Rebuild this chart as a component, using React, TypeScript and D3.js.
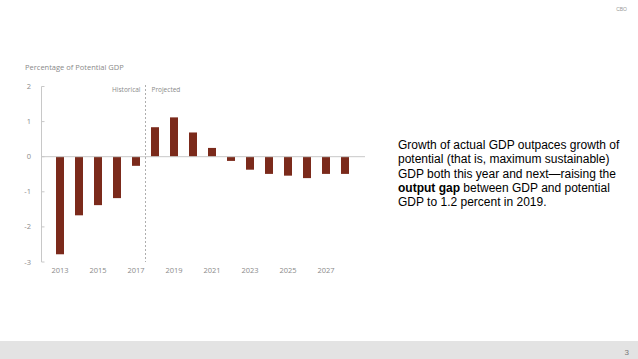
import React, { useEffect, useRef } from "react";
import * as d3 from "d3";

// output gap, percentage of potential GDP
const years = [2013, 2014, 2015, 2016, 2017, 2018, 2019, 2020, 2021, 2022, 2023, 2024, 2025, 2026, 2027, 2028];
const gapValues = [-2.78, -1.67, -1.38, -1.18, -0.26, 0.84, 1.12, 0.69, 0.25, -0.12, -0.37, -0.49, -0.54, -0.61, -0.49, -0.49];
const yTicks = [2, 1, 0, -1, -2, -3];
const xTickYears = [2013, 2015, 2017, 2019, 2021, 2023, 2025, 2027];
const noteLines = [
  [{ t: "Growth of actual GDP outpaces growth of", b: false }],
  [{ t: "potential (that is, maximum sustainable)", b: false }],
  [{ t: "GDP both this year and next\u2014raising the", b: false }],
  [{ t: "output gap", b: true }, { t: " between GDP and potential", b: false }],
  [{ t: "GDP to 1.2 percent in 2019.", b: false }],
];

const W = 638;
const H = 359;

export default function App() {
  const ref = useRef<SVGSVGElement>(null);

  useEffect(() => {
    const svg = d3.select(ref.current);
    svg.selectAll("*").remove();

    const font = "'Open Sans', sans-serif";
    const grey = "#8a8a8a";

    // slide background + footer band
    svg.append("rect").attr("width", W).attr("height", H).attr("fill", "#fff");
    svg.append("rect").attr("x", 0).attr("y", 341).attr("width", W).attr("height", H - 341).attr("fill", "#e3e3e3");
    svg.append("text").attr("x", 629).attr("y", 355).attr("text-anchor", "end")
      .attr("font-family", "Liberation Sans, Arial, sans-serif").attr("font-size", 8).attr("fill", "#777").text("3");
    svg.append("text").attr("x", 627).attr("y", 11).attr("text-anchor", "end")
      .attr("font-family", "Liberation Sans, Arial, sans-serif").attr("font-size", 5).attr("fill", "#999").text("CBO");

    const x = d3.scaleLinear().domain([2013, 2028]).range([60, 345]);
    const y = d3.scaleLinear().domain([-3, 2]).range([262, 86.5]);
    const barW = 8;

    svg.append("text").attr("x", 25).attr("y", 70)
      .attr("font-family", font).attr("font-size", 7.5).attr("fill", grey)
      .text("Percentage of Potential GDP");

    // y axis
    const axisX = 41.5;
    svg.append("line").attr("x1", axisX).attr("x2", axisX).attr("y1", y(2)).attr("y2", y(-3))
      .attr("stroke", "#c8c8c8").attr("stroke-width", 1);
    svg.selectAll(".ytick").data(yTicks).join("line")
      .attr("x1", axisX).attr("x2", axisX + 3).attr("y1", (d) => y(d)).attr("y2", (d) => y(d))
      .attr("stroke", "#c8c8c8");
    svg.selectAll(".ylab").data(yTicks).join("text")
      .attr("x", 31).attr("y", (d) => y(d) + 2.5).attr("text-anchor", "end")
      .attr("font-family", font).attr("font-size", 7.5).attr("fill", grey)
      .text((d) => d);

    // x labels
    svg.selectAll(".xlab").data(xTickYears).join("text")
      .attr("x", (d) => x(d)).attr("y", 273).attr("text-anchor", "middle")
      .attr("font-family", font).attr("font-size", 7.5).attr("fill", grey)
      .text((d) => d);

    // bars
    svg.append("g").selectAll("rect").data(years).join("rect")
      .attr("x", (d) => x(d) - barW / 2)
      .attr("y", (d, i) => y(Math.max(0, gapValues[i])))
      .attr("width", barW)
      .attr("height", (d, i) => Math.abs(y(gapValues[i]) - y(0)))
      .attr("fill", "#7b2a1b");

    // zero line
    svg.append("line").attr("x1", axisX).attr("x2", 365).attr("y1", y(0)).attr("y2", y(0))
      .attr("stroke", "#c8c8c8").attr("stroke-width", 1);

    // historical / projected divider
    const divX = x(2017.5);
    svg.append("line").attr("x1", divX).attr("x2", divX).attr("y1", 85).attr("y2", 262)
      .attr("stroke", "#999").attr("stroke-dasharray", "2,2").attr("stroke-width", 0.8);
    svg.append("text").attr("x", divX - 5).attr("y", 92).attr("text-anchor", "end")
      .attr("font-family", font).attr("font-size", 6.5).attr("fill", grey).text("Historical");
    svg.append("text").attr("x", divX + 6).attr("y", 92)
      .attr("font-family", font).attr("font-size", 6.5).attr("fill", grey).text("Projected");

    // note text
    const note = svg.append("text").attr("font-family", "Liberation Sans, Arial, sans-serif")
      .attr("font-size", 12).attr("fill", "#000");
    noteLines.forEach((line, i) => {
      line.forEach((seg, j) => {
        const ts = note.append("tspan").attr("font-weight", seg.b ? "bold" : "normal").text(seg.t);
        if (j === 0) ts.attr("x", 398).attr("y", 149 + i * 14.3);
      });
    });
  }, []);

  return (
    <svg ref={ref} width={W} height={H} style={{ position: "absolute", left: 0, top: 0, display: "block" }} />
  );
}
